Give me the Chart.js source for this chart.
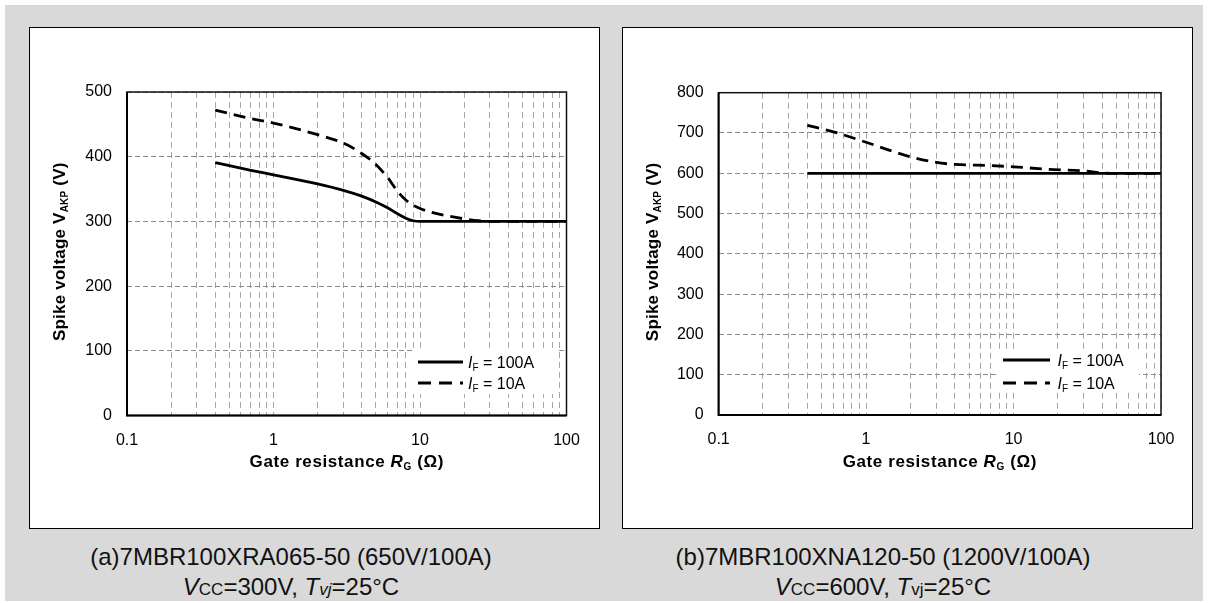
<!DOCTYPE html>
<html>
<head>
<meta charset="utf-8">
<script src="https://cdn.jsdelivr.net/npm/chart.js@4.4.0/dist/chart.umd.min.js"></script>
<style>
  body { margin: 0; background: #fff; font-family: "Liberation Sans", Arial, sans-serif; }
  #sheet { position: absolute; left: 5px; top: 5px; width: 1198px; height: 596px; background: #d9d9d9; }
  .panel { position: absolute; top: 27px; width: 569px; height: 500px; background: #fff; border: 1px solid #000; }
  .panel canvas { display: block; }
  .caption { position: absolute; width: 500px; text-align: center; font-size: 24px; line-height: 30px; color: #111; }
  .caption i { font-style: italic; }
  .caption .sub { font-size: 17px; }
</style>
</head>
<body>
<div id="sheet"></div>
<div class="panel" style="left:29px"><canvas id="chartA" width="569" height="500"></canvas></div>
<div class="panel" style="left:622px"><canvas id="chartB" width="569" height="500"></canvas></div>
<div class="caption" style="left:41px; top:542px">(a)7MBR100XRA065-50 (650V/100A)<br><i>V</i><span class="sub">CC</span>=300V, <i>T<span class="sub">vj</span></i>=25°C</div>
<div class="caption" style="left:633px; top:542px">(b)7MBR100XNA120-50 (1200V/100A)<br><i>V</i><span class="sub">CC</span>=600V, <i>T</i><span class="sub">vj</span>=25°C</div>
<script>
// gate resistance (ohm) / spike voltage (V)
const aRg100 = [0.4, 0.7, 1, 2, 3, 4, 5, 6, 7, 8, 9, 10, 20, 50, 100];
const aV100 = [391, 379, 372, 358, 348, 339, 330, 321, 312, 305, 301, 300, 300, 300, 300];
const aRg10 = [0.4, 0.7, 1, 2, 3, 4, 5, 6, 7, 8, 9, 10, 12, 15, 20, 25, 30, 50, 100];
const aV10 = [472, 459, 452, 434, 421, 405, 388, 368, 347, 333, 325, 320, 314, 309, 304, 301, 300, 300, 300];

const bRg100 = [0.4, 1, 10, 100];
const bV100 = [600, 600, 600, 600];
const bRg10 = [0.4, 0.6, 1, 1.5, 2, 3, 4, 7, 10, 17, 30, 40, 50, 100];
const bV10 = [719, 703, 677, 655, 641, 627, 622, 619, 616, 610, 606, 601, 600, 600];

const xGrid = [0.1, 0.2, 0.3, 0.4, 0.5, 0.6, 0.7, 0.8, 0.9,
               1, 2, 3, 4, 5, 6, 7, 8, 9,
               10, 20, 30, 40, 50, 60, 70, 80, 90, 100];
const xTickValues = [0.1, 1, 10, 100];
const xTickLabels = ['0.1', '1', '10', '100'];

const FONT = '"Liberation Sans", Arial, sans-serif';

function toPoints(xs, ys) {
  return xs.map((x, i) => ({ x: x, y: ys[i] }));
}

// draws a run of differently styled text pieces on one baseline
function drawRuns(ctx, runs, x, y) {
  let total = 0;
  runs.forEach((r) => {
    ctx.font = r.font;
    r.w = ctx.measureText(r.t).width;
    total += r.w;
  });
  let cx = x - total / 2;
  runs.forEach((r) => {
    ctx.font = r.font;
    ctx.fillText(r.t, cx, y + (r.dy || 0));
    cx += r.w;
  });
}

const decor = {
  id: 'decor',
  afterDraw(chart, args, o) {
    const ctx = chart.ctx;
    const a = chart.chartArea;
    ctx.save();
    // plot frame
    ctx.setLineDash([]);
    ctx.strokeStyle = '#111';
    ctx.lineWidth = 1.5;
    ctx.strokeRect(a.left, a.top, a.right - a.left, a.bottom - a.top);
    ctx.strokeStyle = '#000';
    ctx.lineWidth = 2;
    ctx.beginPath();
    ctx.moveTo(a.left, a.top);
    ctx.lineTo(a.left, a.bottom);
    ctx.lineTo(a.right, a.bottom);
    ctx.stroke();

    // legend
    const lg = o.legend;
    ctx.fillStyle = '#fff';
    ctx.fillRect(lg.boxX, lg.boxY, lg.boxW, lg.boxH);
    ctx.strokeStyle = '#000';
    ctx.lineWidth = 3;
    ctx.beginPath();
    ctx.moveTo(lg.x0, lg.y1);
    ctx.lineTo(lg.x1, lg.y1);
    ctx.stroke();
    ctx.setLineDash([13, 8]);
    ctx.beginPath();
    ctx.moveTo(lg.x0, lg.y2);
    ctx.lineTo(lg.x1, lg.y2);
    ctx.stroke();
    ctx.setLineDash([]);
    ctx.fillStyle = '#000';
    ctx.textBaseline = 'alphabetic';
    const legendText = (label, y) => {
      const runs = [
        { t: 'I', font: 'italic 16px ' + FONT },
        { t: 'F', font: '10px ' + FONT, dy: 3 },
        { t: ' = ' + label, font: '16px ' + FONT }
      ];
      let w = 0;
      runs.forEach((r) => { ctx.font = r.font; w += ctx.measureText(r.t).width; });
      drawRuns(ctx, runs, lg.tx + w / 2, y + 6);
    };
    legendText(o.labels[0], lg.y1);
    legendText(o.labels[1], lg.y2);

    // axis titles
    ctx.letterSpacing = '0.6px';
    drawRuns(ctx, [
      { t: 'Gate resistance ', font: 'bold 17px ' + FONT },
      { t: 'R', font: 'italic bold 17px ' + FONT },
      { t: 'G', font: 'bold 10px ' + FONT, dy: 3 },
      { t: ' (\u03a9)', font: 'bold 17px ' + FONT }
    ], (a.left + a.right) / 2, o.xTitleY);
    ctx.letterSpacing = '0.2px';

    ctx.translate(o.yTitleX, (a.top + a.bottom) / 2 - 2);
    ctx.rotate(-Math.PI / 2);
    drawRuns(ctx, [
      { t: 'Spike voltage ', font: 'bold 17px ' + FONT },
      { t: 'V', font: 'bold 17px ' + FONT },
      { t: 'AKP', font: 'bold 10px ' + FONT, dy: 3 },
      { t: ' (V)', font: 'bold 17px ' + FONT }
    ], 0, 0);
    ctx.restore();
  }
};

function makeChart(id, series, yMax, box, legend) {
  const canvas = document.getElementById(id);
  const W = canvas.width, H = canvas.height;
  const xAxisH = 40;
  return new Chart(canvas, {
    type: 'line',
    data: {
      datasets: [
        {
          label: 'IF = 100A',
          data: toPoints(series[0], series[1]),
          borderColor: '#000',
          borderWidth: 2.8,
          pointRadius: 0,
          cubicInterpolationMode: 'monotone'
        },
        {
          label: 'IF = 10A',
          data: toPoints(series[2], series[3]),
          borderColor: '#000',
          borderWidth: 2.8,
          borderDash: [12, 7],
          pointRadius: 0,
          cubicInterpolationMode: 'monotone'
        }
      ]
    },
    options: {
      responsive: false,
      animation: false,
      devicePixelRatio: 1,
      layout: {
        padding: { left: 0, top: box.top, right: W - box.right, bottom: H - box.bottom - xAxisH }
      },
      scales: {
        x: {
          type: 'logarithmic',
          min: 0.1,
          max: 100,
          afterBuildTicks: (s) => { s.ticks = xGrid.map((v) => ({ value: v })); },
          afterFit: (s) => { s.height = xAxisH; },
          grid: { color: '#a6a6a6', lineWidth: 1, drawTicks: false },
          border: { display: false, dash: [6, 4] },
          ticks: {
            autoSkip: false,
            maxRotation: 0,
            padding: 15,
            color: '#000',
            font: { family: FONT, size: 16 },
            callback: (v) => {
              const i = xTickValues.indexOf(v);
              return i >= 0 ? xTickLabels[i] : '';
            }
          }
        },
        y: {
          min: 0,
          max: yMax,
          afterFit: (s) => { s.width = box.left; },
          grid: { color: '#8c8c8c', lineWidth: 1, drawTicks: false },
          border: { display: false, dash: [5, 3] },
          ticks: {
            stepSize: 100,
            padding: 15,
            color: '#000',
            font: { family: FONT, size: 16 }
          }
        }
      },
      plugins: {
        legend: { display: false },
        tooltip: { enabled: false },
        decor: {
          legend: legend,
          labels: ['100A', '10A'],
          xTitleY: 439,
          yTitleX: 35
        }
      }
    },
    plugins: [decor]
  });
}

makeChart('chartA', [aRg100, aV100, aRg10, aV10], 500,
  { left: 97, right: 536.5, top: 64, bottom: 387.5 },
  { boxX: 382, boxY: 322, boxW: 146, boxH: 44, x0: 388, x1: 433, y1: 334, y2: 355, tx: 438 });

makeChart('chartB', [bRg100, bV100, bRg10, bV10], 800,
  { left: 95.6, right: 538, top: 64.7, bottom: 387 },
  { boxX: 376, boxY: 322, boxW: 140, boxH: 42, x0: 380, x1: 427, y1: 332, y2: 355, tx: 434.5 });
</script>
</body>
</html>
